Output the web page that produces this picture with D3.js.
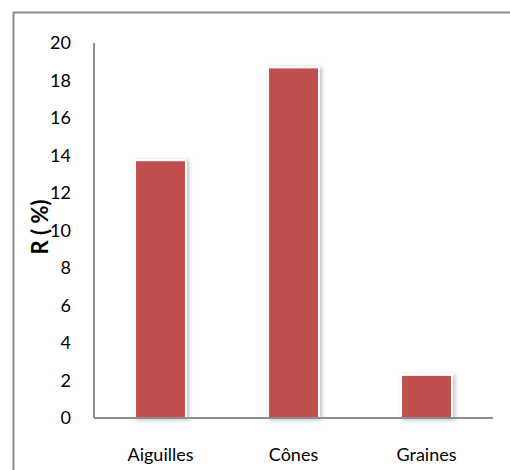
<!DOCTYPE html>
<html>
<head>
<meta charset="utf-8">
<script src="https://cdn.jsdelivr.net/npm/d3@7"></script>
<style>
  html, body { margin: 0; padding: 0; background: #fff; }
  svg { display: block; }
</style>
</head>
<body>
<svg id="chart" width="510" height="470"></svg>
<script>
// Rendement par partie de la plante
const categories = ["Aiguilles", "Cônes", "Graines"];
const values = [13.75, 18.7, 2.3];
const yTicks = [0, 2, 4, 6, 8, 10, 12, 14, 16, 18, 20];
const yTitle = "R ( %)";

const svg = d3.select("#chart");
const font = "Lato, 'Open Sans', sans-serif";

const plot = { left: 94, right: 493, top: 43, bottom: 418 };

// Soft drop shadow under the bars
const defs = svg.append("defs");
const f = defs.append("filter").attr("id", "shadow")
  .attr("x", "-20%").attr("y", "-10%").attr("width", "150%").attr("height", "130%");
f.append("feDropShadow").attr("dx", 2).attr("dy", 1).attr("stdDeviation", 2)
  .attr("flood-color", "#000").attr("flood-opacity", 0.25);

// Outer frame (top and left edges visible)
svg.append("path")
  .attr("d", "M510,12.5 H13.5 V470")
  .attr("fill", "none").attr("stroke", "#8c8c8c").attr("stroke-width", 2);

const x = d3.scaleBand().domain(categories)
  .range([plot.left, plot.right]).paddingInner(0.617).paddingOuter(0.3085);
const y = d3.scaleLinear().domain([0, 20]).range([plot.bottom, plot.top]);

// Y axis labels
const yAxis = d3.axisLeft(y).tickValues(yTicks).tickSize(0).tickPadding(23);
const gy = svg.append("g").attr("transform", `translate(${plot.left},0)`).call(yAxis);
gy.select(".domain").remove();
gy.selectAll("text").attr("font-family", font).attr("font-size", 18).attr("fill", "#000");

// Bars
svg.append("g").selectAll("rect").data(values).join("rect")
  .attr("x", (d, i) => x(categories[i]))
  .attr("y", d => y(d))
  .attr("width", x.bandwidth())
  .attr("height", d => y(0) - y(d))
  .attr("fill", "#C0504D")
  .attr("stroke", "#fff").attr("stroke-width", 2)
  .attr("filter", "url(#shadow)");

// Axis lines
svg.append("line").attr("x1", plot.left).attr("x2", plot.left)
  .attr("y1", plot.top).attr("y2", plot.bottom)
  .attr("stroke", "#8c8c8c").attr("stroke-width", 2);
svg.append("line").attr("x1", plot.left).attr("x2", plot.right)
  .attr("y1", plot.bottom).attr("y2", plot.bottom)
  .attr("stroke", "#8c8c8c").attr("stroke-width", 2);

// X axis labels
const xAxis = d3.axisBottom(x).tickSize(0).tickPadding(30);
const gx = svg.append("g").attr("transform", `translate(0,${plot.bottom})`).call(xAxis);
gx.select(".domain").remove();
gx.selectAll("text").attr("font-family", font).attr("font-size", 18).attr("fill", "#000");

// Y axis title
svg.append("text")
  .attr("transform", "translate(48,227) rotate(-90)")
  .attr("text-anchor", "middle")
  .attr("font-family", font).attr("font-weight", "bold").attr("font-size", 22)
  .attr("fill", "#000")
  .text(yTitle);
</script>
</body>
</html>
